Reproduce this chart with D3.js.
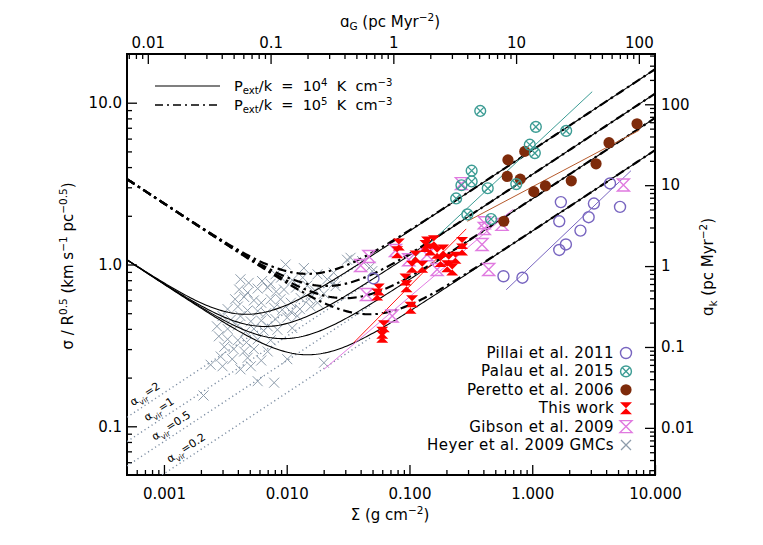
<!DOCTYPE html>
<html>
<head>
<meta charset="utf-8">
<script src="https://cdn.jsdelivr.net/npm/d3@7"></script>
<style>
  body { margin: 0; background: #fff; }
  text { font-family: "DejaVu Sans", sans-serif; fill: #000; }
</style>
</head>
<body>
<div id="chart"></div>
<script>
// ---- data: [Sigma (g cm^-2), sigma/R^0.5 (km s^-1 pc^-0.5)] ----
const heyer = [
  [0.031,1.07],[0.0098,1.00],[0.0138,0.95],[0.0081,0.87],[0.0042,0.81],[0.0049,0.77],[0.0063,0.79],[0.0074,0.76],
  [0.0090,0.83],[0.0111,0.80],[0.0135,0.83],[0.0178,0.87],[0.0214,0.81],[0.0243,0.77],
  [0.0041,0.70],[0.0048,0.67],[0.0058,0.71],[0.0070,0.72],[0.0082,0.68],[0.0095,0.70],[0.0119,0.72],[0.0147,0.74],
  [0.0170,0.69],[0.0201,0.66],[0.0038,0.61],[0.0045,0.63],[0.0054,0.60],[0.0062,0.58],[0.0074,0.61],[0.0089,0.61],
  [0.0108,0.58],[0.0130,0.62],[0.0152,0.61],[0.0178,0.58],[0.0033,0.53],[0.0040,0.55],[0.0048,0.52],[0.0058,0.515],
  [0.0068,0.50],[0.0079,0.54],[0.0092,0.525],[0.0108,0.51],[0.0128,0.53],[0.0157,0.55],[0.0030,0.48],[0.0035,0.455],
  [0.0042,0.48],[0.0051,0.445],[0.0062,0.45],[0.0070,0.415],[0.0081,0.46],[0.0101,0.47],[0.0122,0.48],[0.0027,0.415],
  [0.0033,0.40],[0.0040,0.42],[0.0046,0.385],[0.0054,0.40],[0.0065,0.39],[0.0084,0.395],[0.0111,0.405],[0.0028,0.36],
  [0.0033,0.345],[0.0040,0.34],[0.0047,0.33],[0.0058,0.345],[0.0074,0.34],[0.0031,0.31],[0.0037,0.30],[0.0045,0.29],
  [0.0054,0.30],[0.0070,0.29],[0.0029,0.27],[0.0036,0.26],[0.0048,0.265],[0.0062,0.255],[0.0101,0.26],[0.0201,0.247],
  [0.0024,0.24],[0.0030,0.235],[0.0042,0.225],[0.0051,0.235],[0.0058,0.19],[0.0079,0.186],[0.0021,0.155],
  [0.0331,1.10],[0.0412,1.05],[0.0482,0.97],[0.0498,0.91],[0.025,0.735],[0.0241,0.89]
];
const thisWork = [
  [0.0819,1.33],[0.0794,1.19],[0.139,1.37],[0.158,1.39],[0.148,1.24],[0.188,1.22],[0.268,1.36],[0.268,1.24],
  [0.112,1.12],[0.105,0.968],[0.127,0.968],[0.179,1.05],[0.203,0.976],[0.209,1.07],[0.223,0.931],[0.0562,0.701],
  [0.0546,0.653],[0.0927,0.807],[0.0946,0.734],[0.105,0.593],[0.102,0.541],[0.0618,0.416],[0.060,0.379],[0.060,0.358],
  [0.135,1.30],[0.168,1.18],[0.237,1.10]
];
const gibson = [
  [0.0769,1.22],[0.0467,1.12],[0.040,0.986],[0.0447,0.653],[0.0986,1.07],[0.139,1.15],[0.168,0.931],[0.390,1.33],
  [0.407,1.81],[0.407,1.67],[0.567,1.77],[0.442,0.931],[0.0723,0.480],[0.265,3.16],[5.53,3.10]
];
const pillai = [
  [1.71,2.43],[3.18,2.38],[4.30,3.17],[5.19,2.27],[1.66,1.85],[2.88,1.96],[2.47,1.62],[1.88,1.33],[1.66,1.23],
  [0.583,0.846],[0.832,0.829],[0.0509,0.820]
];
const palau = [
  [0.377,8.89],[1.07,7.09],[1.89,6.70],[0.955,5.50],[1.05,4.88],[0.321,3.80],[0.321,3.26],[0.265,3.09],[0.434,2.96],
  [0.741,3.14],[0.240,2.56],[0.296,2.04],[0.462,1.91]
];
const peretto = [
  [0.634,4.43],[0.869,5.00],[0.625,3.50],[0.798,3.37],[1.03,2.82],[1.28,3.06],[2.08,3.29],[3.31,4.19],[4.22,5.66],
  [7.14,7.41],[0.586,1.85]
];
// fitted power laws, end points
const palauFit = [[0.105,1.07],[3.08,11.7]];
const perettoFit = [[0.296,1.85],[7.45,6.76]];
const thisWorkFit = [[0.0352,0.329],[0.290,1.66]];
const gibsonFit = [[0.0201,0.225],[0.695,2.19]];
const pillaiFit = [[0.614,0.698],[6.37,3.80]];

// model parameters
const alphaVir = [2, 1, 0.5, 0.2];
const alphaLabels = ["2", "1", "0.5", "0.2"];
const pressures = [1e4, 1e5];          // P_ext/k in K cm^-3
const pressureLabels = ["4", "5"];

// tick labels
const xTicks = [0.001, 0.01, 0.1, 1, 10];
const xTickLabels = ["0.001", "0.010", "0.100", "1.000", "10.000"];
const yTicks = [0.1, 1, 10];
const yTickLabels = ["0.1", "1.0", "10.0"];
const topTicks = [0.01, 0.1, 1, 10, 100];
const topTickLabels = ["0.01", "0.1", "1", "10", "100"];
const rightTicks = [0.01, 0.1, 1, 10, 100];
const rightTickLabels = ["0.01", "0.1", "1", "10", "100"];

// ---- physics ----
const G = 4.302e-3;             // pc (km/s)^2 / Msun
const gcm2 = 4788;              // Msun pc^-2 per g cm^-2
const kB = 1.380649e-16;
const accUnit = 3.2408e-9;      // cm s^-2 per (km/s)^2/pc
const kmsPcMyr2 = 1.0459;       // (km/s)^2/pc -> pc/Myr^2
function model(S, a, P) {
  return Math.sqrt(a * Math.PI * G * S * gcm2 / 5 + (4 / 3) * P * kB / S / accUnit);
}

// ---- layout ----
const width = 763, height = 545;
const marginLeft = 127, marginRight = 108, marginTop = 54, marginBottom = 70;
const fs = 15;
const x = d3.scaleLog().domain([5e-4, 10]).range([marginLeft, width - marginRight]);
const y = d3.scaleLog().domain([0.05, 20]).range([height - marginBottom, marginTop]);
const aG = d3.scaleLog().domain(x.domain().map(d => d * Math.PI * G * gcm2 / 5 * kmsPcMyr2)).range(x.range());
const aK = d3.scaleLog().domain(y.domain().map(d => d * d * kmsPcMyr2)).range(y.range());

const svg = d3.select("#chart").append("svg")
  .attr("width", width).attr("height", height)
  .attr("viewBox", [0, 0, width, height]);

svg.append("defs").append("clipPath").attr("id", "clip")
  .append("rect").attr("x", marginLeft).attr("y", marginTop)
  .attr("width", width - marginLeft - marginRight).attr("height", height - marginTop - marginBottom);

function minors(scale) {
  const [a, b] = scale.domain();
  const out = [];
  for (let e = Math.floor(Math.log10(a)); e <= Math.ceil(Math.log10(b)); e++)
    for (let k = 2; k <= 9; k++) {
      const v = k * Math.pow(10, e);
      if (v > a && v < b) out.push(v);
    }
  return out;
}

function axis(gen, scale, ticks, labels, transform, pad) {
  svg.append("g").attr("transform", transform)
    .call(gen(scale).tickValues(minors(scale)).tickSize(-5).tickFormat(""))
    .call(g => g.select(".domain").remove())
    .call(g => g.selectAll("line").attr("stroke-width", 1.3));
  svg.append("g").attr("transform", transform)
    .call(gen(scale).tickValues(ticks).tickSize(-10).tickPadding(pad)
      .tickFormat((d, i) => labels[i]))
    .call(g => g.select(".domain").remove())
    .call(g => g.selectAll("line").attr("stroke-width", 1.3))
    .call(g => g.selectAll("text").attr("font-size", fs).attr("font-family", "DejaVu Sans"));
}
axis(d3.axisBottom, x, xTicks, xTickLabels, `translate(0,${height - marginBottom})`, 13);
axis(d3.axisTop, aG, topTicks, topTickLabels, `translate(0,${marginTop})`, 6);
axis(d3.axisLeft, y, yTicks, yTickLabels, `translate(${marginLeft},0)`, 5);
axis(d3.axisRight, aK, rightTicks, rightTickLabels, `translate(${width - marginRight},0)`, 6);

svg.append("rect")
  .attr("x", marginLeft).attr("y", marginTop)
  .attr("width", width - marginLeft - marginRight).attr("height", height - marginTop - marginBottom)
  .attr("fill", "none").attr("stroke", "#000").attr("stroke-width", 2);

// rich text helper (sup / sub)
function rich(sel, parts, up = 6, down = 4) {
  let shift = 0;
  parts.forEach(p => {
    const t = p.sup ? -up : p.sub ? down : 0;
    sel.append("tspan").attr("dy", t - shift)
      .attr("font-size", t ? "0.7em" : null).text(p.t);
    shift = t;
  });
}

svg.append("text").attr("x", 390).attr("y", 520).attr("text-anchor", "middle").attr("font-size", fs)
  .call(rich, [{t: "Σ (g cm"}, {t: "−2", sup: 1}, {t: ")"}]);
svg.append("text").attr("x", 390).attr("y", 27).attr("text-anchor", "middle").attr("font-size", fs)
  .call(rich, [{t: "ɑ"}, {t: "G", sub: 1}, {t: " (pc Myr"}, {t: "−2", sup: 1}, {t: ")"}], 6, 3);
svg.append("text").attr("transform", "translate(73,266) rotate(-90)").attr("text-anchor", "middle").attr("font-size", fs)
  .call(rich, [{t: "σ / R"}, {t: "0.5", sup: 1}, {t: " (km s"}, {t: "−1", sup: 1}, {t: " pc"}, {t: "−0.5", sup: 1}, {t: ")"}]);
svg.append("text").attr("transform", "translate(713,267) rotate(-90)").attr("text-anchor", "middle").attr("font-size", fs)
  .call(rich, [{t: "ɑ"}, {t: "k", sub: 1}, {t: " (pc Myr"}, {t: "−2", sup: 1}, {t: ")"}]);

const plot = svg.append("g").attr("clip-path", "url(#clip)");
const line = d3.line().x(d => x(d[0])).y(d => y(d[1]));

// virial lines (dotted)
const dotEnd = 0.05;
alphaVir.forEach(a => {
  plot.append("path")
    .attr("d", line([[5e-4, model(5e-4, a, 0)], [dotEnd, model(dotEnd, a, 0)]]))
    .attr("fill", "none").attr("stroke", "#7d8ea3").attr("stroke-width", 1.4)
    .attr("stroke-dasharray", "1.2,3");
});
const labelX = [150, 164, 176, 191];
const slopeDeg = Math.atan(0.5 * (y(0.1) - y(1)) / (x(1) - x(0.1))) * 180 / Math.PI;
alphaVir.forEach((a, i) => {
  const S = x.invert(labelX[i]);
  svg.append("text")
    .attr("transform", `translate(${labelX[i] - 3},${y(model(S, a, 0)) - 5}) rotate(${-slopeDeg})`)
    .attr("text-anchor", "middle").attr("font-size", 11)
    .call(rich, [{t: "α"}, {t: "vir", sub: 1}, {t: "=" + alphaLabels[i]}]);
});

// Heyer GMCs
plot.append("g").selectAll("path").data(heyer).join("path")
  .attr("transform", d => `translate(${x(d[0])},${y(d[1])})`)
  .attr("d", "M-5,-5L5,5M-5,5L5,-5")
  .attr("stroke", "#8d9cab").attr("stroke-width", 1).attr("fill", "none");

// model curves
const grid = d3.range(0, 241).map(i => Math.pow(10, Math.log10(5e-4) + i * (Math.log10(10) - Math.log10(5e-4)) / 240));
pressures.forEach((P, j) => {
  alphaVir.forEach(a => {
    plot.append("path")
      .attr("d", line(grid.map(S => [S, model(S, a, P)])))
      .attr("fill", "none").attr("stroke", "#000")
      .attr("stroke-width", j ? 2.2 : 1.1)
      .attr("stroke-dasharray", j ? "9,4,2.5,4" : null);
  });
});

// fits
[[palauFit, "#3c9c94"], [perettoFit, "#b65a2c"], [thisWorkFit, "#ff1a1a"], [gibsonFit, "#e27be2"], [pillaiFit, "#7865c0"]]
  .forEach(([d, c]) => plot.append("path").attr("d", line(d)).attr("fill", "none").attr("stroke", c).attr("stroke-width", 1));

// markers
const hourglass = "M-6,-6L6,-6L0,0Z M-6,6L6,6L0,0Z";
function circX(g) {
  g.append("circle").attr("r", 5.4).attr("fill", "none").attr("stroke", "#3c9c94").attr("stroke-width", 1.4);
  g.append("path").attr("d", "M-3.6,-3.6L3.6,3.6M-3.6,3.6L3.6,-3.6").attr("stroke", "#3c9c94").attr("stroke-width", 1.3);
}
const markers = {
  pillai: g => g.append("circle").attr("r", 5.5).attr("fill", "none").attr("stroke", "#7865c0").attr("stroke-width", 1.4),
  palau: circX,
  peretto: g => g.append("circle").attr("r", 5.6).attr("fill", "#7e2b0b"),
  thisWork: g => g.append("path").attr("d", hourglass).attr("fill", "#ff0000"),
  gibson: g => g.append("path").attr("d", hourglass).attr("fill", "none").attr("stroke", "#e07ae0").attr("stroke-width", 1.4),
  heyer: g => g.append("path").attr("d", "M-5,-5L5,5M-5,5L5,-5").attr("stroke", "#8d9cab").attr("stroke-width", 1.3)
};
[[gibson, "gibson"], [thisWork, "thisWork"], [pillai, "pillai"], [peretto, "peretto"], [palau, "palau"]]
  .forEach(([data, k]) => {
    plot.append("g").selectAll("g").data(data).join("g")
      .attr("transform", d => `translate(${x(d[0])},${y(d[1])})`)
      .each(function () { markers[k](d3.select(this)); });
  });

// legend: data sets
const legendNames = ["Pillai et al. 2011", "Palau et al. 2015", "Peretto et al. 2006", "This work", "Gibson et al. 2009", "Heyer et al. 2009 GMCs"];
const legendKeys = ["pillai", "palau", "peretto", "thisWork", "gibson", "heyer"];
legendNames.forEach((n, i) => {
  const yy = 353 + i * 18.4;
  svg.append("text").attr("x", 614).attr("y", yy + 5).attr("text-anchor", "end")
    .attr("font-size", fs).attr("letter-spacing", 0.4).text(n);
  markers[legendKeys[i]](svg.append("g").attr("transform", `translate(626,${yy})`));
});

// legend: pressures
pressures.forEach((P, j) => {
  const yy = 86 + j * 19;
  svg.append("line").attr("x1", 155).attr("x2", 220).attr("y1", yy).attr("y2", yy)
    .attr("stroke", "#000").attr("stroke-width", j ? 1.6 : 1.2)
    .attr("stroke-dasharray", j ? "8,4,2,4" : null);
  svg.append("text").attr("x", 234).attr("y", yy + 5).attr("font-size", 14.5).style("white-space", "pre")
    .call(rich, [{t: "P"}, {t: "ext", sub: 1}, {t: "/k  =  10"}, {t: pressureLabels[j], sup: 1}, {t: "  K  cm"}, {t: "−3", sup: 1}], 5, 3);
});
</script>
</body>
</html>
